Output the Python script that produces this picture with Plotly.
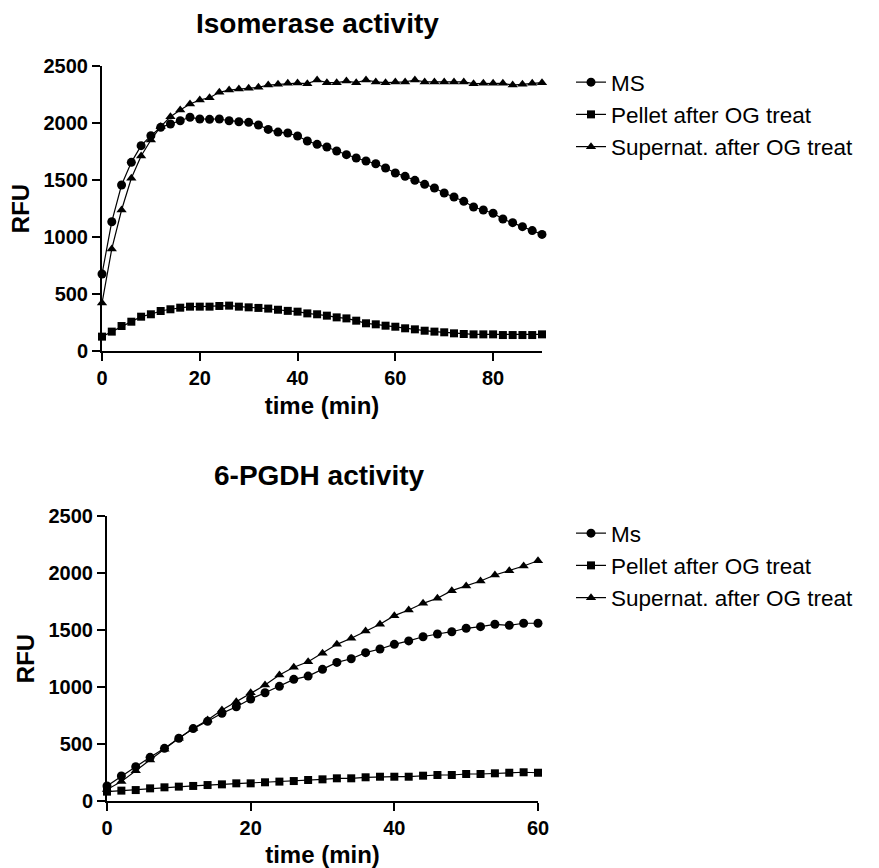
import plotly.graph_objects as go

# ---------------- data ----------------
iso_time = [0, 2, 4, 6, 8, 10, 12, 14, 16, 18, 20, 22, 24, 26, 28, 30, 32, 34, 36, 38,
            40, 42, 44, 46, 48, 50, 52, 54, 56, 58, 60, 62, 64, 66, 68, 70, 72, 74, 76, 78,
            80, 82, 84, 86, 88, 90]
iso_ms = [675, 1134, 1456, 1655, 1801, 1889, 1962, 1991, 2020, 2050,
          2035, 2032, 2035, 2020, 2011, 2006, 1982, 1944, 1920, 1912,
          1886, 1842, 1813, 1789, 1754, 1722, 1693, 1667, 1643, 1605,
          1561, 1532, 1497, 1462, 1430, 1386, 1351, 1313, 1263, 1237,
          1208, 1158, 1126, 1091, 1056, 1023]
iso_pellet = [126, 170, 219, 257, 301, 322, 351, 366, 380, 389,
              389, 389, 395, 398, 389, 383, 378, 372, 362, 352,
              345, 330, 322, 310, 295, 286, 266, 243, 234, 222,
              213, 199, 190, 178, 170, 164, 155, 149, 146, 146,
              146, 140, 140, 140, 140, 146]
iso_super = [420, 895, 1237, 1515, 1711, 1851, 1968, 2055, 2114, 2167,
             2202, 2222, 2269, 2289, 2298, 2304, 2313, 2333, 2339, 2348,
             2350, 2345, 2377, 2354, 2354, 2368, 2354, 2377, 2360, 2354,
             2360, 2360, 2377, 2360, 2360, 2360, 2360, 2360, 2345, 2348,
             2348, 2348, 2333, 2339, 2348, 2354]

pg_time = [0, 2, 4, 6, 8, 10, 12, 14, 16, 18, 20, 22, 24, 26, 28, 30, 32, 34, 36, 38,
           40, 42, 44, 46, 48, 50, 52, 54, 56, 58, 60]
pg_ms = [132, 219, 301, 383, 462, 550, 635, 699, 769, 827,
         895, 950, 1006, 1067, 1096, 1155, 1216, 1248, 1301, 1333,
         1374, 1404, 1441, 1465, 1485, 1515, 1529, 1550, 1541, 1559, 1559]
pg_pellet = [82, 91, 96, 111, 120, 126, 132, 140, 146, 155,
             155, 164, 170, 175, 184, 190, 199, 199, 208, 213,
             213, 213, 222, 228, 228, 237, 237, 243, 248, 252, 248]
pg_super = [100, 170, 266, 360, 453, 550, 635, 711, 798, 871,
            950, 1017, 1105, 1173, 1222, 1295, 1374, 1427, 1491, 1550,
            1626, 1675, 1734, 1778, 1845, 1886, 1930, 1982, 2020, 2061, 2108]

iso_names = ["MS", "Pellet after OG treat", "Supernat. after OG treat"]
pg_names = ["Ms", "Pellet after OG treat", "Supernat. after OG treat"]
symbols = ["circle", "square", "triangle-up"]
y_ticks = [0, 500, 1000, 1500, 2000, 2500]

W, H = 879, 868
FONT = "Liberation Sans, Arial, sans-serif"

fig = go.Figure()

for name, ys, sym in zip(iso_names, [iso_ms, iso_pellet, iso_super], symbols):
    fig.add_trace(go.Scatter(
        x=iso_time, y=ys, name=name, mode="lines+markers",
        line=dict(color="black", width=1.2),
        marker=dict(symbol=sym, size=9 if sym != "square" else 8, color="black"),
        xaxis="x", yaxis="y", legend="legend", cliponaxis=False))

for name, ys, sym in zip(pg_names, [pg_ms, pg_pellet, pg_super], symbols):
    fig.add_trace(go.Scatter(
        x=pg_time, y=ys, name=name, mode="lines+markers",
        line=dict(color="black", width=1.2),
        marker=dict(symbol=sym, size=9 if sym != "square" else 8, color="black"),
        xaxis="x2", yaxis="y2", legend="legend2", cliponaxis=False))

tickfont = dict(family=FONT, size=20, color="black", weight="bold")
titlefont = dict(family=FONT, size=24, color="black", weight="bold")
common = dict(showline=True, linewidth=2, linecolor="black", ticks="outside",
              ticklen=8, tickwidth=2, tickcolor="black", showgrid=False,
              zeroline=False, tickfont=tickfont, automargin=False)

legfont = dict(family=FONT, size=22.5, color="black")

fig.update_layout(
    width=W, height=H,
    margin=dict(l=0, r=0, t=0, b=0, autoexpand=False),
    paper_bgcolor="white", plot_bgcolor="white",
    font=dict(family=FONT, color="black"),
    xaxis=dict(domain=[102 / W, 542 / W], range=[0, 90], tickvals=[0, 20, 40, 60, 80],
               anchor="y", title=dict(text="time (min)", font=titlefont, standoff=9), **common),
    yaxis=dict(domain=[1 - 351 / H, 1 - 66 / H], range=[0, 2500], tickvals=y_ticks,
               anchor="x", title=dict(text="RFU", font=titlefont, standoff=7), **common),
    xaxis2=dict(domain=[107 / W, 538 / W], range=[0, 60], tickvals=[0, 20, 40, 60],
                anchor="y2", title=dict(text="time (min)", font=titlefont, standoff=10), **common),
    yaxis2=dict(domain=[1 - 801 / H, 1 - 516 / H], range=[0, 2500], tickvals=y_ticks,
                anchor="x2", title=dict(text="RFU", font=titlefont, standoff=7), **common),
    legend=dict(x=571 / W, y=1 - 61 / H, xanchor="left", yanchor="top",
                font=legfont, bgcolor="rgba(0,0,0,0)", tracegroupgap=0),
    legend2=dict(x=571 / W, y=1 - 512 / H, xanchor="left", yanchor="top",
                 font=legfont, bgcolor="rgba(0,0,0,0)", tracegroupgap=0),
    annotations=[
        dict(text="Isomerase activity", x=317.5 / W, y=1 - 24 / H, xref="paper", yref="paper",
             xanchor="center", yanchor="middle", showarrow=False,
             font=dict(family=FONT, size=28, color="black", weight="bold")),
        dict(text="6-PGDH activity", x=318.5 / W, y=1 - 475 / H, xref="paper", yref="paper",
             xanchor="center", yanchor="middle", showarrow=False,
             font=dict(family=FONT, size=28, color="black", weight="bold")),
    ],
)

fig.write_html("out.html", config={"displayModeBar": False},
               post_script="document.body.style.margin='0px';")
